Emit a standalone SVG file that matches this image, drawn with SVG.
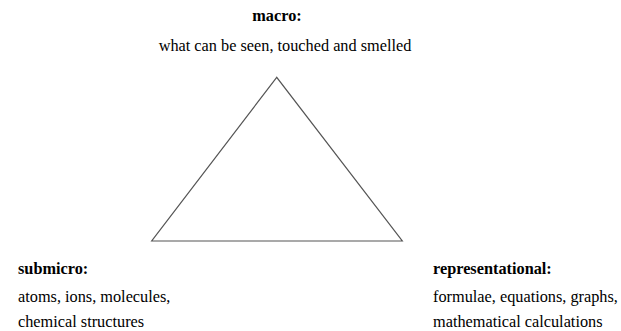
<svg xmlns="http://www.w3.org/2000/svg" width="621" height="331" viewBox="0 0 621 331">
<style>
text{font-family:"Liberation Serif","Times New Roman",serif;font-size:16.3px;fill:#000}
.b{font-weight:bold}
.tri{fill:none;stroke:#555;stroke-width:1.2}
</style>
<rect width="621" height="331" fill="#fff"/>
<g id="connectors">
<polygon class="tri" points="276.7,77.3 151.7,241 402.3,241"/>
</g>
<g id="macro">
<text class="b" x="277" y="21" text-anchor="middle">macro:</text>
<text x="285" y="51" text-anchor="middle">what can be seen, touched and smelled</text>
</g>
<g id="submicro">
<text class="b" x="18" y="274">submicro:</text>
<text x="18" y="302">atoms, ions, molecules,</text>
<text x="18" y="326.5">chemical structures</text>
</g>
<g id="representational">
<text class="b" x="433" y="274">representational:</text>
<text x="433" y="302">formulae, equations, graphs,</text>
<text x="433" y="326.5">mathematical calculations</text>
</g>
</svg>
